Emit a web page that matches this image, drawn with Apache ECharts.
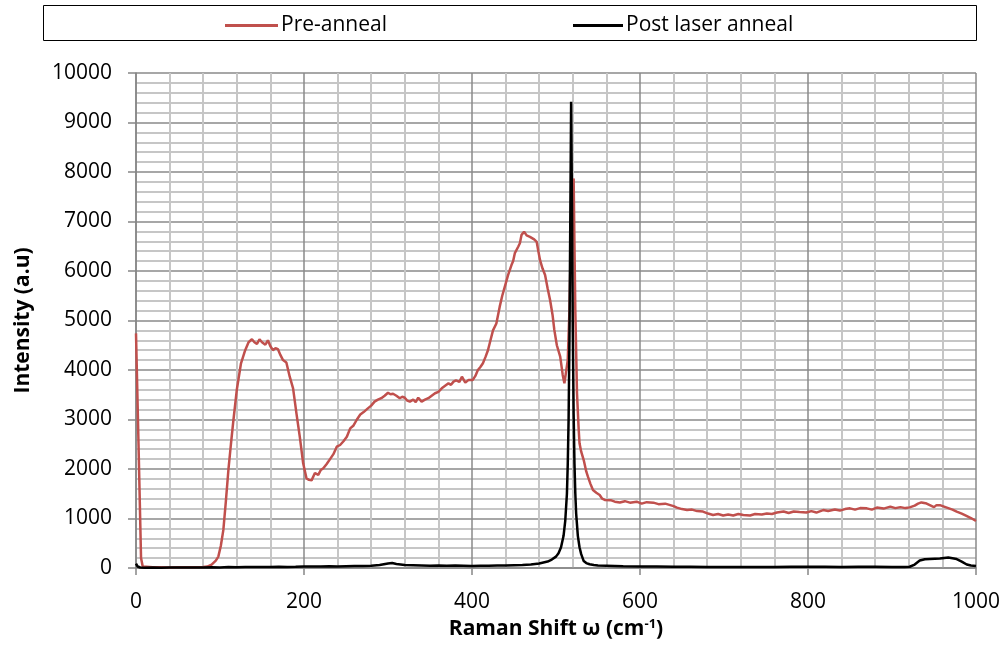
<!DOCTYPE html>
<html>
<head>
<meta charset="utf-8">
<script src="https://cdn.jsdelivr.net/npm/echarts@6/dist/echarts.min.js"></script>
<style>
  html, body { margin: 0; padding: 0; background: #fff; }
  #main { width: 1005px; height: 657px; }
</style>
</head>
<body>
<div id="main"></div>
<script>
// Raman spectra, [shift, intensity]
var preAnneal = [
  [0, 4740], [3, 2500], [6, 200], [8, 30], [10, 20], [20, 15], [30, 15], [40, 10], [50, 15], [60, 15],
  [70, 15], [80, 20], [85, 30], [90, 70], [95, 150], [98, 230], [101, 450], [104, 770], [107, 1350], [110, 1980],
  [113, 2500], [116, 2990], [120, 3600], [125, 4135], [130, 4400], [134, 4560], [138, 4620], [141, 4560], [144, 4525], [147, 4620],
  [150, 4560], [154, 4510], [157, 4600], [160, 4480], [163, 4400], [166, 4440], [169, 4420], [172, 4300], [175, 4200], [179, 4150],
  [183, 3865], [187, 3630], [191, 3125], [195, 2650], [199, 2115], [203, 1810], [206, 1780], [209, 1770], [213, 1920], [217, 1880],
  [220, 1980], [223, 2015], [227, 2100], [231, 2200], [235, 2300], [239, 2450], [243, 2485], [247, 2560], [251, 2650], [255, 2820],
  [259, 2880], [263, 3000], [267, 3100], [271, 3150], [276, 3225], [280, 3280], [284, 3360], [288, 3400], [292, 3430], [296, 3480],
  [300, 3540], [303, 3510], [306, 3520], [310, 3480], [314, 3430], [317, 3460], [320, 3440], [323, 3380], [326, 3360], [330, 3400],
  [333, 3350], [336, 3440], [340, 3360], [344, 3400], [348, 3430], [352, 3480], [356, 3530], [360, 3560], [364, 3630], [368, 3680],
  [372, 3730], [375, 3700], [378, 3765], [381, 3790], [385, 3760], [388, 3865], [392, 3745], [396, 3800], [401, 3800], [404, 3880],
  [407, 4000], [410, 4060], [413, 4135], [416, 4260], [419, 4400], [422, 4600], [425, 4800], [429, 4940], [433, 5280], [436, 5500],
  [439, 5680], [441, 5650], [443, 5920], [447, 6120], [449, 6200], [451, 6360], [453, 6340], [455, 6490], [457, 6560], [459, 6730],
  [461, 6700], [462, 6795], [465, 6720], [467, 6740], [469, 6690], [471, 6700], [474, 6640], [477, 6590], [479, 6400], [481, 6220],
  [484, 6050], [487, 5920], [490, 5650], [493, 5410], [496, 5100], [498, 4810], [501, 4500], [505, 4270], [508, 3900], [510, 3730],
  [512, 3760], [514, 4200], [516, 5200], [518, 6800], [520, 7700], [521, 7870], [522, 6500], [523, 5200], [525, 3530], [527, 2800],
  [528, 2520], [530, 2350], [533, 2180], [536, 1950], [538, 1845], [541, 1700], [544, 1575], [548, 1520], [552, 1475], [555, 1400],
  [558, 1375], [565, 1370], [570, 1340], [576, 1325], [582, 1350], [588, 1320], [596, 1340], [602, 1300], [608, 1330], [616, 1320],
  [622, 1290], [630, 1300], [636, 1270], [640, 1250], [644, 1220], [650, 1190], [656, 1170], [662, 1180], [668, 1150], [675, 1140],
  [681, 1100], [687, 1070], [693, 1090], [699, 1060], [705, 1080], [711, 1060], [717, 1090], [723, 1070], [731, 1060], [737, 1090],
  [745, 1080], [751, 1100], [757, 1090], [763, 1120], [771, 1140], [777, 1110], [783, 1140], [790, 1130], [798, 1120], [804, 1150],
  [810, 1120], [818, 1170], [824, 1150], [832, 1180], [838, 1160], [844, 1190], [850, 1205], [856, 1180], [862, 1210], [870, 1205],
  [876, 1180], [882, 1220], [890, 1200], [898, 1240], [904, 1210], [910, 1230], [916, 1210], [921, 1225], [927, 1260], [931, 1300],
  [935, 1325], [940, 1310], [945, 1270], [950, 1230], [953, 1270], [957, 1270], [962, 1240], [967, 1210], [972, 1180], [977, 1140],
  [983, 1100], [988, 1060], [994, 1010], [1000, 950]
];

var postLaser = [
  [0, 90], [2, 30], [5, 10], [10, 5], [20, 8], [30, 5], [40, 10], [50, 8], [60, 12], [70, 10],
  [80, 10], [90, 15], [100, 12], [110, 18], [120, 15], [130, 20], [140, 18], [150, 22], [160, 20], [170, 25],
  [180, 22], [190, 25], [200, 30], [210, 28], [220, 32], [230, 35], [240, 30], [250, 35], [260, 40], [270, 40],
  [280, 45], [290, 60], [300, 90], [305, 100], [310, 80], [320, 60], [330, 55], [340, 50], [350, 45], [360, 50],
  [370, 45], [380, 50], [390, 45], [400, 40], [410, 45], [420, 45], [430, 50], [440, 50], [450, 55], [460, 60],
  [470, 70], [480, 90], [490, 130], [495, 170], [500, 230], [503, 300], [506, 420], [509, 650], [511, 950], [513, 1500],
  [514, 2100], [515, 3000], [516, 4600], [517, 7000], [518, 9420], [519, 7400], [520, 4800], [521, 3100], [522, 2100], [523, 1500],
  [524, 1100], [526, 650], [528, 420], [530, 280], [533, 140], [536, 100], [540, 75], [545, 60], [550, 50], [560, 45],
  [570, 40], [580, 35], [600, 30], [620, 30], [640, 25], [660, 25], [680, 20], [700, 20], [720, 20], [740, 20],
  [760, 20], [780, 25], [800, 25], [820, 25], [840, 20], [860, 25], [880, 25], [900, 20], [915, 20], [921, 25],
  [927, 70], [933, 150], [939, 175], [945, 180], [951, 185], [957, 190], [962, 200], [967, 210], [972, 195], [977, 180],
  [983, 130], [989, 70], [994, 50], [1000, 40]
];

var seriesNames = ['Pre-anneal', 'Post laser anneal'];
var FONT = 'Open Sans';

var chart = echarts.init(document.getElementById('main'), null, { renderer: 'canvas' });

var option = {
  backgroundColor: '#ffffff',
  animation: false,
  textStyle: { fontFamily: FONT, color: '#000' },
  graphic: [{
    type: 'rect',
    shape: { x: 43.5, y: 5.5, width: 933, height: 35 },
    style: { fill: 'none', stroke: '#000', lineWidth: 1 },
    silent: true
  }],
  legend: [{
    data: [seriesNames[0]],
    left: 220, top: 10,
    icon: 'rect', itemWidth: 53, itemHeight: 3, itemGap: 4,
    textStyle: { fontFamily: FONT, fontSize: 21, color: '#000', padding: [0, 0, 0, -2] }
  }, {
    data: [seriesNames[1]],
    left: 568, top: 10,
    icon: 'rect', itemWidth: 50, itemHeight: 3, itemGap: 4,
    textStyle: { fontFamily: FONT, fontSize: 21, color: '#000', padding: [0, 0, 0, -2] }
  }],
  grid: { left: 136, right: 29, top: 73, bottom: 89, containLabel: false },
  xAxis: {
    type: 'value', min: 0, max: 1000, interval: 200,
    name: '{b|Raman Shift ω (cm}{s|-1}{b|)}',
    nameLocation: 'middle', nameGap: 50,
    nameTextStyle: {
      rich: {
        b: { fontFamily: FONT, fontSize: 21, fontWeight: 'bold', color: '#000' },
        s: { fontFamily: FONT, fontSize: 13, fontWeight: 'bold', color: '#000', verticalAlign: 'top', padding: [0, 0, 10, 0] }
      }
    },
    axisLine: { show: true, lineStyle: { color: '#868686', width: 1.5 } },
    axisTick: { show: true, inside: false, length: 7, lineStyle: { color: '#868686', width: 1.5 } },
    axisLabel: { fontFamily: FONT, fontSize: 21, color: '#000', margin: 24, formatter: function (v) { return String(v); } },
    splitLine: { show: true, lineStyle: { color: '#8a8a8a', width: 1.5 } },
    minorTick: { show: false, splitNumber: 5 },
    minorSplitLine: { show: true, lineStyle: { color: '#c6c6c6', width: 2 } }
  },
  yAxis: {
    type: 'value', min: 0, max: 10000, interval: 1000,
    name: 'Intensity (a.u)',
    nameLocation: 'middle', nameGap: 102,
    nameTextStyle: { fontFamily: FONT, fontSize: 21, fontWeight: 'bold', color: '#000' },
    axisLine: { show: true, lineStyle: { color: '#868686', width: 1.5 } },
    axisTick: { show: true, inside: false, length: 8, lineStyle: { color: '#868686', width: 1.5 } },
    axisLabel: { fontFamily: FONT, fontSize: 21, color: '#000', margin: 24, formatter: function (v) { return String(v); } },
    splitLine: { show: true, lineStyle: { color: '#8a8a8a', width: 1.5 } },
    minorTick: { show: false, splitNumber: 5 },
    minorSplitLine: { show: true, lineStyle: { color: '#c6c6c6', width: 2 } }
  },
  series: [{
    name: seriesNames[0],
    type: 'line',
    data: preAnneal,
    symbol: 'none',
    smooth: false,
    z: 2,
    lineStyle: { color: '#C0504D', width: 2.5 },
    itemStyle: { color: '#C0504D' }
  }, {
    name: seriesNames[1],
    type: 'line',
    data: postLaser,
    symbol: 'none',
    smooth: false,
    z: 3,
    lineStyle: { color: '#000000', width: 2.5 },
    itemStyle: { color: '#000000' }
  }]
};

chart.setOption(option);
</script>
</body>
</html>
